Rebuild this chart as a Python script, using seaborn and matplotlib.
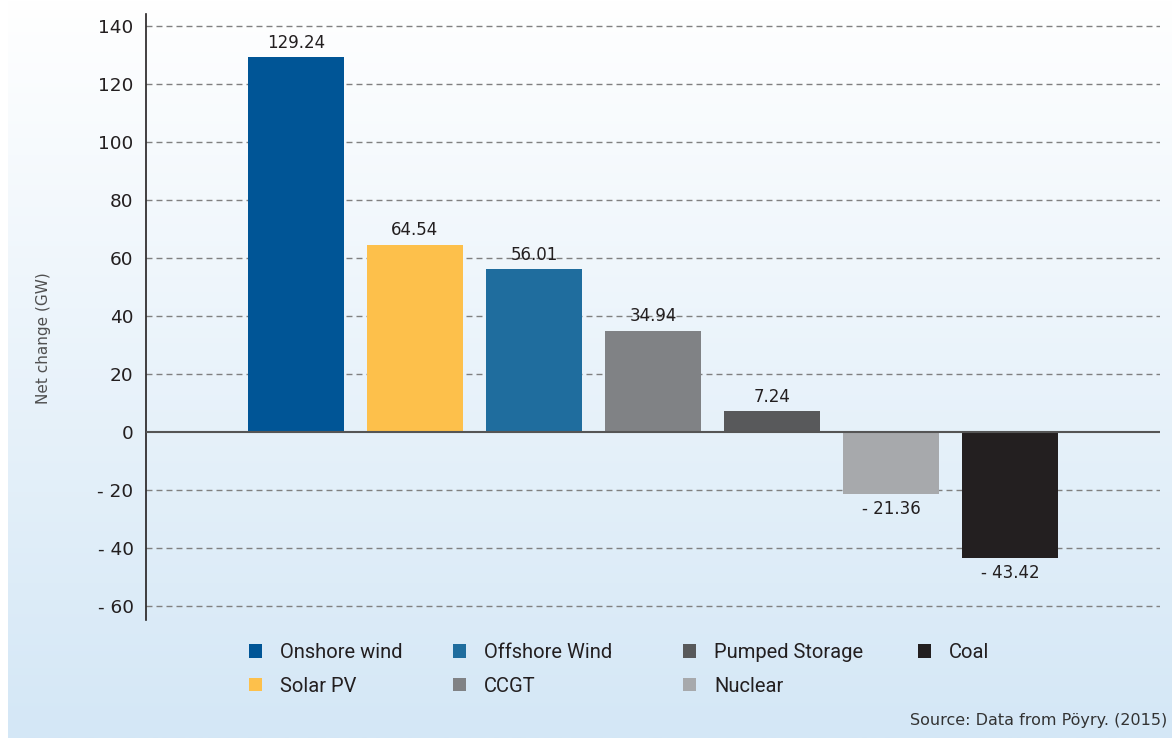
import numpy as np
import pandas as pd
import matplotlib.pyplot as plt
import seaborn as sns
from matplotlib.patches import Patch

categories = ["Onshore wind", "Solar PV", "Offshore Wind", "CCGT",
              "Pumped Storage", "Nuclear", "Coal"]
net_change = [129.24, 64.54, 56.01, 34.94, 7.24, -21.36, -43.42]
colors = ["#005596", "#fdc04b", "#1f6d9e", "#808285",
          "#58595b", "#a7a9ac", "#231f20"]
yticks = [-60, -40, -20, 0, 20, 40, 60, 80, 100, 120, 140]
ytick_labels = ["- 60", "- 40", "- 20", "0", "20", "40", "60",
                "80", "100", "120", "140"]

df = pd.DataFrame({"tech": categories, "gw": net_change})
palette = dict(zip(categories, colors))

sns.set_style("white")
plt.rcParams["font.family"] = ["DejaVu Sans"]

fig = plt.figure(figsize=(11.72, 7.38), dpi=100)

# background gradient, white at top to pale blue at bottom
bg = fig.add_axes([8 / 1172, 0, 1 - 8 / 1172, 1], zorder=-10)
top = np.array([1.0, 1.0, 1.0])
bot = np.array([0xd4, 0xe7, 0xf6]) / 255
t = np.linspace(0, 1, 256)[:, None]
grad = top * (1 - t) + bot * t
bg.imshow(grad[:, None, :], aspect="auto", extent=[0, 1, 0, 1])
bg.axis("off")

ax = fig.add_axes([146 / 1172, 1 - 620 / 738, (1160 - 146) / 1172, (620 - 14) / 738])
ax.patch.set_alpha(0)

sns.barplot(data=df, x="tech", y="gw", hue="tech", palette=palette,
            order=categories, width=0.8, saturation=1, legend=False,
            linewidth=0, ax=ax, zorder=3)

ax.set_xlim(-1.26, 7.26)
ax.set_ylim(-64.8, 144)
ax.set_yticks(yticks)
ax.set_yticklabels(ytick_labels, fontsize=13.3, color="#231f20")
ax.set_xticks([])
ax.set_xlabel("")
ax.set_ylabel("Net change (GW)", fontsize=11, color="#505050", labelpad=0)
ax.yaxis.set_label_coords(-0.094, 0.465)
ax.tick_params(axis="y", length=0, pad=9)

for y in yticks:
    if y == 0:
        ax.axhline(0, color="#555555", lw=1.5, zorder=4)
    else:
        ax.axhline(y, color="#808080", lw=1, ls=(0, (4.3, 2.9)), zorder=1)

for s in ["top", "right", "bottom"]:
    ax.spines[s].set_visible(False)
ax.spines["left"].set_color("#231f20")
ax.spines["left"].set_linewidth(1.2)

for i, v in enumerate(net_change):
    if v >= 0:
        ax.text(i, v + 1.8, f"{v:.2f}", ha="center", va="bottom",
                fontsize=12, color="#231f20", zorder=2)
    else:
        ax.text(i, v - 2, f"- {abs(v):.2f}", ha="center", va="top",
                fontsize=12, color="#231f20", zorder=2)

# legend: four columns placed at fixed x positions
groups = [[0, 1], [2, 3], [4, 5], [6]]
col_x = [249, 453, 683, 918]
for g, x in zip(groups, col_x):
    handles = [Patch(facecolor=palette[categories[k]], edgecolor="none",
                     label=categories[k]) for k in g]
    fig.legend(handles=handles, frameon=False, loc="upper left",
               bbox_to_anchor=(x / 1172, 1 - 643 / 738),
               prop={"family": "Roboto", "size": 14.5},
               handlelength=0.65, handleheight=0.65, handletextpad=0.9,
               labelspacing=0.72, borderpad=0, borderaxespad=0,
               labelcolor="#231f20")

fig.text(1167 / 1172, 1 - 720 / 738, "Source: Data from Pöyry. (2015)",
         ha="right", va="center", fontsize=11.5, color="#333333")

fig.savefig("out.png", dpi=100)
